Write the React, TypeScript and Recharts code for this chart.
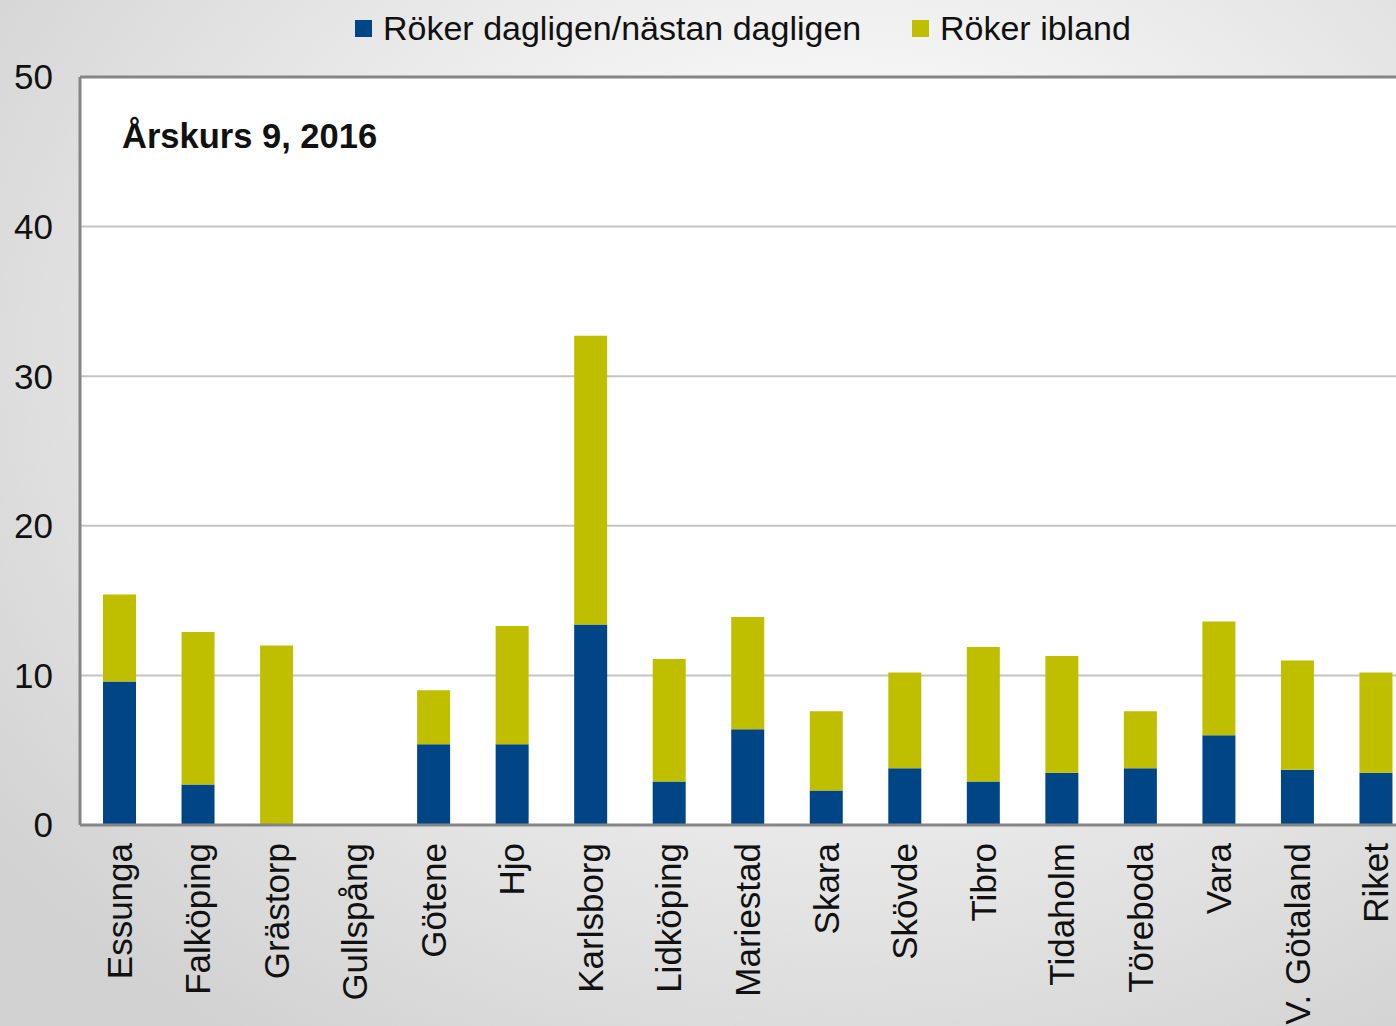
import React from 'react';
import { BarChart, Bar, XAxis, YAxis, CartesianGrid, ReferenceLine } from 'recharts';

const kommuner = [
  'Essunga', 'Falköping', 'Grästorp', 'Gullspång', 'Götene', 'Hjo', 'Karlsborg', 'Lidköping', 'Mariestad',
  'Skara', 'Skövde', 'Tibro', 'Tidaholm', 'Töreboda', 'Vara', 'V. Götaland', 'Riket',
];
const dagligen = [9.6, 2.7, 0, 0, 5.4, 5.4, 13.4, 2.9, 6.4, 2.3, 3.8, 2.9, 3.5, 3.8, 6.0, 3.7, 3.5];
const ibland = [5.8, 10.2, 12.0, 0, 3.6, 7.9, 19.3, 8.2, 7.5, 5.3, 6.4, 9.0, 7.8, 3.8, 7.6, 7.3, 6.7];
const yTicks = [0, 10, 20, 30, 40, 50];

const data = kommuner.map((name, i) => ({ name, dagligen: dagligen[i], ibland: ibland[i] }));

const BLUE = '#004687';
const OLIVE = '#BFBF00';
const AXIS = '#858585';
const FONT = '"Liberation Sans", Arial, sans-serif';

function CategoryTick({ x, y, payload }: any) {
  const ty = y + 18;
  return (
    <text
      x={x}
      y={ty}
      transform={`rotate(-90, ${x}, ${ty})`}
      textAnchor="end"
      dominantBaseline="central"
      fontSize={35}
      fontFamily={FONT}
      fill="#111"
    >
      {payload.value}
    </text>
  );
}

function TopLegend() {
  const item = (color: string, label: string, left: number) => (
    <div style={{ position: 'absolute', left, top: 0, display: 'flex', alignItems: 'center', height: 56 }}>
      <span style={{ width: 17, height: 17, background: color, display: 'inline-block', marginRight: 11 }} />
      <span style={{ fontSize: 34, fontFamily: FONT, color: '#111', whiteSpace: 'nowrap' }}>{label}</span>
    </div>
  );
  return (
    <div style={{ position: 'absolute', left: 0, top: 0, width: 1396, height: 56 }}>
      {item(BLUE, 'Röker dagligen/nästan dagligen', 355)}
      {item(OLIVE, 'Röker ibland', 912)}
    </div>
  );
}

export default function App() {
  return (
    <div
      style={{
        position: 'absolute',
        left: 0,
        top: 0,
        width: 1396,
        height: 1026,
        overflow: 'hidden',
        background: 'radial-gradient(ellipse 75% 80% at 60% 35%, #ffffff 0%, #f4f4f4 35%, #d2d2d2 100%)',
      }}
    >
      <BarChart
        width={1420}
        height={1026}
        data={data}
        margin={{ top: 77, right: 5, left: 0, bottom: 0 }}
        barSize={33}
      >
        <CartesianGrid horizontal vertical={false} stroke="#c4c4c4" strokeWidth={2} fill="#ffffff" />
        <XAxis
          dataKey="name"
          interval={0}
          height={201}
          tickLine={false}
          tickSize={0}
          tickMargin={0}
          axisLine={{ stroke: AXIS, strokeWidth: 3 }}
          tick={<CategoryTick />}
        />
        <YAxis
          width={80}
          domain={[0, 50]}
          ticks={yTicks}
          tickLine={false}
          tickSize={0}
          tickMargin={27}
          axisLine={{ stroke: AXIS, strokeWidth: 3 }}
          tick={{ fill: '#111', fontSize: 35, fontFamily: FONT }}
        />
        <ReferenceLine y={50} stroke={AXIS} strokeWidth={3} />
        <Bar dataKey="dagligen" name="Röker dagligen/nästan dagligen" stackId="a" fill={BLUE} isAnimationActive={false} />
        <Bar dataKey="ibland" name="Röker ibland" stackId="a" fill={OLIVE} isAnimationActive={false} />
      </BarChart>
      <TopLegend />
      <div
        style={{
          position: 'absolute',
          left: 122,
          top: 117,
          fontSize: 34.5,
          fontWeight: 'bold',
          fontFamily: FONT,
          color: '#111',
        }}
      >
        Årskurs 9, 2016
      </div>
    </div>
  );
}
